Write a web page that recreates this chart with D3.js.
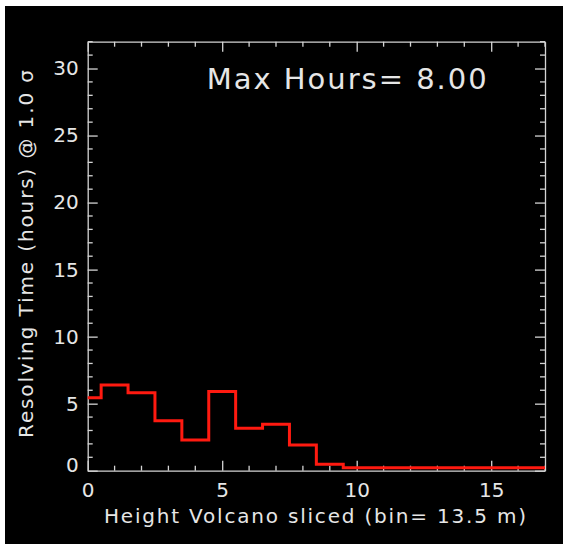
<!DOCTYPE html>
<html>
<head>
<meta charset="utf-8">
<script src="https://cdn.jsdelivr.net/npm/d3@7"></script>
<style>
  body { margin: 0; background: #fff; }
  text { font-family: "DejaVu Sans", sans-serif; fill: #e6e6e6; }
</style>
</head>
<body>
<div class="chart"></div>
<script>
// histogram of resolving time per height bin
var binCenters = [0, 1, 2, 3, 4, 5, 6, 7, 8, 9, 10, 11, 12, 13, 14, 15, 16, 17];
var hours = [5.45, 6.4, 5.82, 3.73, 2.29, 5.9, 3.16, 3.46, 1.92, 0.48,
             0.22, 0.22, 0.22, 0.22, 0.22, 0.22, 0.22, 0.22];
var xMajor = [0, 5, 10, 15];
var yMajor = [0, 5, 10, 15, 20, 25, 30];
var maxLabel = "Max Hours= 8.00";
var xTitle = "Height Volcano sliced (bin= 13.5 m)";
var yTitle = "Resolving Time (hours) @ 1.0 \u03c3";

var width = 568;
var height = 549;
var axisColor = "#d4d4d4";

var svg = d3.select(".chart").append("svg")
    .attr("width", width)
    .attr("height", height);

// black panel inside the white frame
svg.append("rect")
    .attr("x", 5).attr("y", 6)
    .attr("width", 558).attr("height", 538)
    .attr("fill", "#000");

var x = d3.scaleLinear().domain([0, 17]).range([87.7, 545]);
var y = d3.scaleLinear().domain([0, 32]).range([470.7, 41.7]);

var xMinor = d3.range(0, 18).filter(function(v){ return xMajor.indexOf(v) < 0; });
var yMinor = d3.range(0, 33).filter(function(v){ return yMajor.indexOf(v) < 0; });

var styleAxis = function(g){
  g.selectAll("path, line").attr("stroke", axisColor).attr("stroke-width", 1.3);
  g.selectAll("text").attr("fill", "#e6e6e6").style("font-size", "20px")
      .style("font-family", "DejaVu Sans, sans-serif");
};

// bottom axis, ticks pointing inward
var bottomAxis = svg.append("g").attr("transform", "translate(0," + y(0) + ")")
    .call(d3.axisBottom(x).tickValues(xMajor).tickFormat(d3.format("d"))
          .tickSizeInner(-10).tickSizeOuter(0).tickPadding(12));
bottomAxis.selectAll(".minor").data(xMinor).enter().append("line")
    .attr("class", "minor")
    .attr("x1", function(d){ return x(d); }).attr("x2", function(d){ return x(d); })
    .attr("y1", 0).attr("y2", -5);
styleAxis(bottomAxis);

var topAxis = svg.append("g").attr("transform", "translate(0," + y(32) + ")")
    .call(d3.axisTop(x).tickValues(xMajor).tickFormat("")
          .tickSizeInner(-10).tickSizeOuter(0));
topAxis.selectAll(".minor").data(xMinor).enter().append("line")
    .attr("class", "minor")
    .attr("x1", function(d){ return x(d); }).attr("x2", function(d){ return x(d); })
    .attr("y1", 0).attr("y2", 5);
styleAxis(topAxis);

var leftAxis = svg.append("g").attr("transform", "translate(" + x(0) + ",0)")
    .call(d3.axisLeft(y).tickValues(yMajor).tickFormat(d3.format("d"))
          .tickSizeInner(-10).tickSizeOuter(0).tickPadding(9));
leftAxis.selectAll(".minor").data(yMinor).enter().append("line")
    .attr("class", "minor")
    .attr("y1", function(d){ return y(d); }).attr("y2", function(d){ return y(d); })
    .attr("x1", 0).attr("x2", 5);
styleAxis(leftAxis);
// the zero label sits a bit higher
leftAxis.selectAll(".tick text").filter(function(d){ return d === 0; })
    .attr("y", -6);

var rightAxis = svg.append("g").attr("transform", "translate(" + x(17) + ",0)")
    .call(d3.axisRight(y).tickValues(yMajor).tickFormat("")
          .tickSizeInner(-10).tickSizeOuter(0));
rightAxis.selectAll(".minor").data(yMinor).enter().append("line")
    .attr("class", "minor")
    .attr("y1", function(d){ return y(d); }).attr("y2", function(d){ return y(d); })
    .attr("x1", 0).attr("x2", -5);
styleAxis(rightAxis);

// step histogram
var line = d3.line()
    .x(function(d, i){ return x(binCenters[i]); })
    .y(function(d){ return y(d); })
    .curve(d3.curveStep);

svg.append("path")
    .datum(hours)
    .attr("d", line)
    .attr("fill", "none")
    .attr("stroke", "#ff1a10")
    .attr("stroke-width", 3);

// annotation and titles
svg.append("text")
    .attr("x", 206.7).attr("y", 89.3)
    .attr("textLength", 280).attr("lengthAdjust", "spacing")
    .style("font-size", "29px")
    .text(maxLabel);

svg.append("text")
    .attr("x", 315).attr("y", 523)
    .attr("text-anchor", "middle")
    .attr("textLength", 422).attr("lengthAdjust", "spacing")
    .style("font-size", "20px")
    .text(xTitle);

svg.append("text")
    .attr("transform", "translate(33,254) rotate(-90)")
    .attr("text-anchor", "middle")
    .attr("textLength", 368).attr("lengthAdjust", "spacing")
    .style("font-size", "20px")
    .text(yTitle);
</script>
</body>
</html>
